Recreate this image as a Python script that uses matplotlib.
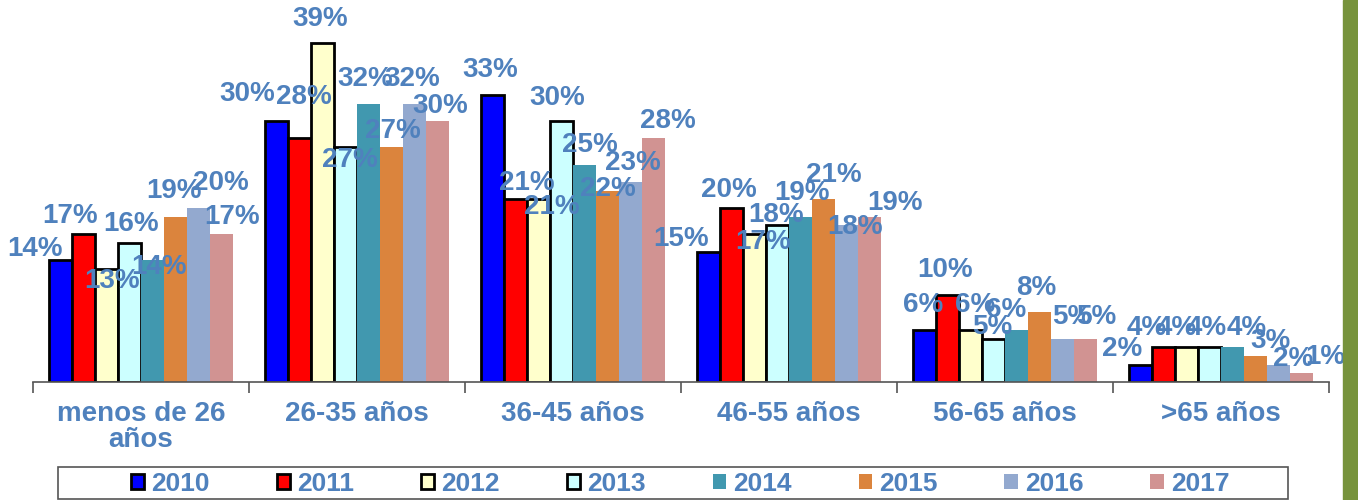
import numpy as np
import matplotlib.pyplot as plt
from matplotlib.patches import Rectangle

# age groups and yearly shares (%)
categories = ["menos de 26\naños", "26-35 años", "36-45 años", "46-55 años", "56-65 años", ">65 años"]
years = ["2010", "2011", "2012", "2013", "2014", "2015", "2016", "2017"]
v2010 = [14, 30, 33, 15, 6, 2]
v2011 = [17, 28, 21, 20, 10, 4]
v2012 = [13, 39, 21, 17, 6, 4]
v2013 = [16, 27, 30, 18, 5, 4]
v2014 = [14, 32, 25, 19, 6, 4]
v2015 = [19, 27, 22, 21, 8, 3]
v2016 = [20, 32, 23, 18, 5, 2]
v2017 = [17, 30, 28, 19, 5, 1]
series = [v2010, v2011, v2012, v2013, v2014, v2015, v2016, v2017]

colors = ["#0000FF", "#FF0000", "#FFFFCC", "#CCFFFF", "#4198AF", "#DB843D", "#93A9CF", "#D19392"]
txt_color = "#4F81BD"

# label placement (pixels from the top centre of each bar), one row per year
label_dx = [[-26, -30, -3, -28, -2, -19],
            [-14, 4, 11, -3, -3, -17],
            [5, -2, 13, 8, 4, -10],
            [2, 4, -4, -1, -1, -3],
            [7, -3, 5, 2, -10, 14],
            [-1, 2, 1, 10, -3, 15],
            [23, -2, 3, 9, 10, 15],
            [11, 3, 15, 26, 11, 24]]
label_dy = [[-11, -27, -25, -13, -25, -16],
            [-18, -41, -16, -18, -25, -19],
            [12, -24, 8, 8, -25, -19],
            [-19, 13, -23, -10, -12, -19],
            [7, -25, -19, -24, -20, -19],
            [-26, -16, -2, -24, -24, -15],
            [-25, -25, -19, 2, -21, -6],
            [-17, -15, -17, -14, -21, -16]]

plt.rcParams['font.family'] = ['Liberation Sans', 'DejaVu Sans']

fig = plt.figure(figsize=(13.58, 5), dpi=100)
ax = fig.add_axes([33/1358, 118/500, 1296/1358, 382/500])

x = np.arange(len(categories))
w = 0.106
for i, (yr, vals) in enumerate(zip(years, series)):
    pos = x - 4*w + w/2 + i*w
    if i < 4:
        bars = ax.bar(pos, vals, w, color=colors[i], edgecolor="black", linewidth=2, label=yr, zorder=2)
    else:
        bars = ax.bar(pos, vals, w, color=colors[i], linewidth=0, label=yr, zorder=2)
    for k, (b, v) in enumerate(zip(bars, vals)):
        ax.annotate(f"{v}%", (b.get_x() + b.get_width()/2, v),
                    xytext=(label_dx[i][k], -label_dy[i][k]), textcoords="offset pixels",
                    ha="center", va="center", fontsize=20, fontweight="bold",
                    color=txt_color, zorder=3)

ax.set_xlim(-0.5, len(categories) - 0.5)
ax.set_ylim(0, 382/8.7)
ax.set_xticks(x)
ax.set_xticklabels(categories, fontsize=20, fontweight="bold", color=txt_color, linespacing=1.0)
ax.set_xticks(np.arange(-0.5, len(categories)), minor=True)
ax.tick_params(axis="x", which="major", length=0, pad=14)
ax.tick_params(axis="x", which="minor", length=8, color="#555555", width=1.2)
ax.set_yticks([])
for s in ["top", "right", "left"]:
    ax.spines[s].set_visible(False)
ax.spines["bottom"].set_color("#555555")
ax.spines["bottom"].set_linewidth(1.2)
ax.patch.set_alpha(0)

leg = fig.legend(loc="center", bbox_to_anchor=(680/1358, 0.032), ncol=8, frameon=False,
                 handlelength=0.5, handleheight=0.5, handletextpad=0.27, columnspacing=2.54,
                 borderpad=0, prop={"size": 19, "weight": "bold"})
for t in leg.get_texts():
    t.set_color(txt_color)

# legend box
fig.patches.append(Rectangle((58/1358, 0.003), 1230/1358, 0.063, transform=fig.transFigure,
                             fill=False, edgecolor="#555555", linewidth=1.2))

# green stripe on the right edge
fig.patches.append(Rectangle((1343/1358, 0), 15/1358, 1, transform=fig.transFigure,
                             color="#77933C", zorder=0))

fig.savefig("out.png", dpi=100)
